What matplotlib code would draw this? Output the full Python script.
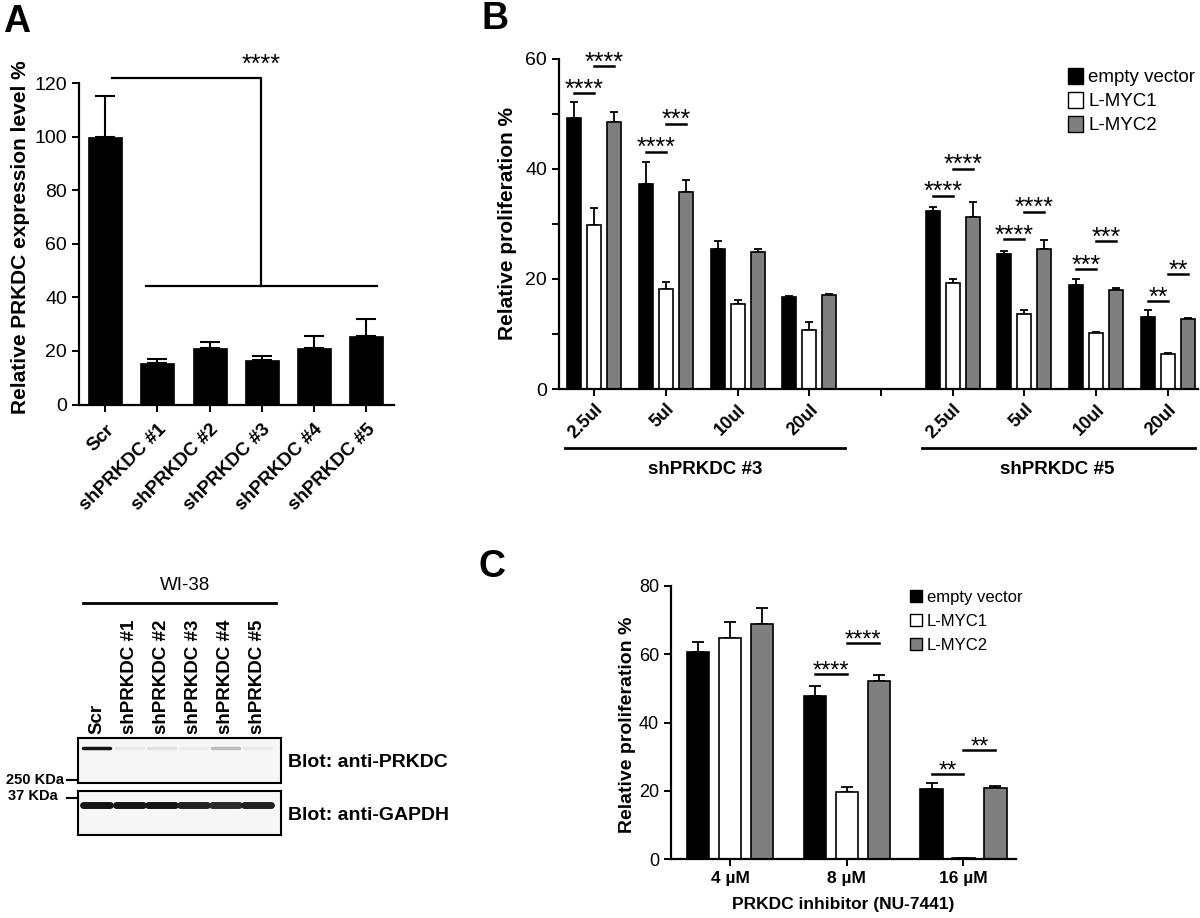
import matplotlib
matplotlib.use("Agg")
import matplotlib.pyplot as plt
from matplotlib.patches import Rectangle
from matplotlib.lines import Line2D

plt.rcParams['font.family'] = ['Liberation Sans', 'DejaVu Sans']

# ---- data ----
a_labels = ['Scr', 'shPRKDC #1', 'shPRKDC #2', 'shPRKDC #3', 'shPRKDC #4', 'shPRKDC #5']
a_values = [100, 15.5, 21, 16.5, 21, 25.5]
a_errors = [15, 1.5, 2.5, 1.5, 4.5, 6.5]

b_positions = [0, 1, 2, 3, 5, 6, 7, 8]
b_labels = ['2.5ul', '5ul', '10ul', '20ul', '2.5ul', '5ul', '10ul', '20ul']
b_empty = [49.3, 37.3, 25.4, 16.7, 32.4, 24.5, 18.9, 13.0]
b_empty_err = [2.9, 3.9, 1.5, 0.2, 0.7, 0.6, 1.0, 1.4]
b_lmyc1 = [29.8, 18.1, 15.4, 10.7, 19.2, 13.6, 10.1, 6.4]
b_lmyc1_err = [3.1, 1.3, 0.7, 1.5, 0.8, 0.8, 0.3, 0.1]
b_lmyc2 = [48.5, 35.7, 24.9, 17.1, 31.3, 25.5, 18.0, 12.8]
b_lmyc2_err = [1.9, 2.2, 0.5, 0.2, 2.6, 1.6, 0.3, 0.1]
# (position, bar a, bar b, line height, stars)
b_sig = [(0, 0, 1, 53.7, '****'), (0, 1, 2, 58.6, '****'),
         (1, 0, 1, 43.1, '****'), (1, 1, 2, 48.2, '***'),
         (5, 0, 1, 35.1, '****'), (5, 1, 2, 40.0, '****'),
         (6, 0, 1, 27.2, '****'), (6, 1, 2, 32.2, '****'),
         (7, 0, 1, 21.8, '***'), (7, 1, 2, 26.8, '***'),
         (8, 0, 1, 15.9, '**'), (8, 1, 2, 20.9, '**')]

c_labels = ['4 µM', '8 µM', '16 µM']
c_empty = [60.7, 47.7, 20.6]
c_empty_err = [2.7, 3.1, 1.8]
c_lmyc1 = [64.8, 19.6, 0.4]
c_lmyc1_err = [4.7, 1.6, 0.1]
c_lmyc2 = [68.7, 52.1, 20.8]
c_lmyc2_err = [4.9, 1.8, 0.6]
c_sig = [(1, 0, 1, 54.1, '****'), (1, 1, 2, 63.2, '****'),
         (2, 0, 1, 24.9, '**'), (2, 1, 2, 32.0, '**')]

series_names = ['empty vector', 'L-MYC1', 'L-MYC2']
series_colors = ['black', 'white', '#7f7f7f']

blot_prkdc = [1.0, 0.10, 0.13, 0.08, 0.28, 0.10]
blot_gapdh = [1.0, 1.0, 1.0, 0.95, 0.9, 0.95]

W, H = 1200, 918
fig = plt.figure(figsize=(12, 9.18), dpi=100)


def px_axes(x0, y0, x1, y1):
    return fig.add_axes([x0 / W, 1 - y1 / H, (x1 - x0) / W, (y1 - y0) / H])


def style(ax, tick_size):
    for s in ['top', 'right']:
        ax.spines[s].set_visible(False)
    for s in ['left', 'bottom']:
        ax.spines[s].set_linewidth(1.6)
    ax.tick_params(width=1.4, length=5, labelsize=tick_size, direction='out')


def fig_text(x, y, s, **kw):
    fig.text(x / W, 1 - y / H, s, **kw)


def fig_line(x0, x1, y, lw=2):
    fig.add_artist(Line2D([x0 / W, x1 / W], [1 - y / H, 1 - y / H], color='black', lw=lw))


def grouped(ax, pos, vals, errs, width, offset, capsize):
    for k in range(3):
        xs = [p + (k - 1) * offset for p in pos]
        ax.errorbar(xs, vals[k], yerr=[[0] * len(xs), errs[k]], fmt='none', ecolor='black',
                    elinewidth=1.3, capsize=capsize, capthick=1.3, zorder=1)
        ax.bar(xs, vals[k], width, color=series_colors[k], edgecolor='black', linewidth=1.2, zorder=2)


def stars(ax, sig, offset, size):
    for p, i, j, y, s in sig:
        x0 = p + (i - 1) * offset
        x1 = p + (j - 1) * offset
        ax.plot([x0, x1], [y, y], color='black', lw=1.8, clip_on=False)
        ax.annotate(s, xy=((x0 + x1) / 2, y), xytext=(0, -2.5), textcoords='offset points',
                    ha='center', va='baseline', fontsize=size, annotation_clip=False)


def legend(x, ys, box, size):
    for name, col, y in zip(series_names, series_colors, ys):
        fig.add_artist(Rectangle((x / W, 1 - (y + box / 2) / H), box / W, box / H,
                                 facecolor=col, edgecolor='black', lw=1.0))
        fig_text(x + box + 5, y, name, fontsize=size, va='center_baseline')


# ---- panel A ----
axA = px_axes(79, 83, 394, 404.5)
axA.errorbar(range(6), a_values, yerr=[[0] * 6, a_errors], fmt='none', ecolor='black',
             elinewidth=1.5, capsize=7, capthick=1.5, zorder=1)
axA.bar(range(6), a_values, 0.65, color='black', edgecolor='black', linewidth=0.5, zorder=2)
axA.set_xlim(-0.5, 5.53)
axA.set_ylim(0, 120)
axA.set_yticks(range(0, 121, 20))
style(axA, 14)
axA.tick_params(axis='x', pad=7)
axA.set_xticks(range(6))
axA.set_xticklabels(a_labels, rotation=45, ha='right', rotation_mode='anchor',
                    fontweight='bold', fontsize=13.5)
axA.set_ylabel('Relative PRKDC expression level %', fontsize=15, fontweight='bold')
axA.yaxis.set_label_coords(-0.155, 0.52)
axA.plot([0.13, 2.98, 2.98], [121.7, 121.7, 44.3], color='black', lw=1.6, clip_on=False)
axA.plot([0.78, 5.2], [44.3, 44.3], color='black', lw=1.6, clip_on=False)
axA.annotate('****', xy=(2.98, 121.7), xytext=(0, 5), textcoords='offset points',
             ha='center', va='baseline', fontsize=18, annotation_clip=False)

# ---- panel B ----
axB = px_axes(559, 58.7, 1198, 389)
grouped(axB, b_positions, [b_empty, b_lmyc1, b_lmyc2],
        [b_empty_err, b_lmyc1_err, b_lmyc2_err], 0.195, 0.279, 3)
axB.set_xlim(-0.49, 8.42)
axB.set_ylim(0, 60)
axB.set_yticks([0, 20, 40, 60])
axB.set_yticks([10, 30, 50], minor=True)
style(axB, 14)
axB.tick_params(which='minor', width=1.4, length=5)
axB.set_xticks([0, 1, 2, 3, 4, 5, 6, 7, 8])
axB.set_xticklabels(b_labels[:4] + [''] + b_labels[4:], rotation=45, ha='right',
                    rotation_mode='anchor', fontweight='bold', fontsize=13)
axB.set_ylabel('Relative proliferation %', fontsize=15, fontweight='bold')
axB.yaxis.set_label_coords(-0.066, 0.5)
stars(axB, b_sig, 0.279, 18)
fig_line(565, 845, 448)
fig_line(922, 1195, 448)
fig_text(705, 470, 'shPRKDC #3', fontsize=13.5, fontweight='bold', ha='center', va='center')
fig_text(1057, 470, 'shPRKDC #5', fontsize=13.5, fontweight='bold', ha='center', va='center')
legend(1068, [76, 100, 124], 15, 13.5)

# ---- panel C ----
axC = px_axes(671, 585.7, 1016, 859.3)
grouped(axC, range(3), [c_empty, c_lmyc1, c_lmyc2],
        [c_empty_err, c_lmyc1_err, c_lmyc2_err], 0.19, 0.274, 4.5)
axC.set_xlim(-0.506, 2.45)
axC.set_ylim(0, 80)
axC.set_yticks([0, 20, 40, 60, 80])
style(axC, 13)
axC.set_xticks(range(3))
axC.set_xticklabels(c_labels, fontweight='bold', fontsize=12.5)
axC.set_xlabel('PRKDC inhibitor (NU-7441)', fontsize=12.5, fontweight='bold', labelpad=8)
axC.set_ylabel('Relative proliferation %', fontsize=14, fontweight='bold')
axC.yaxis.set_label_coords(-0.1, 0.49)
stars(axC, c_sig, 0.274, 17)
legend(910, [596, 620, 644], 12, 12)

# ---- western blot ----
fig_text(185, 585, 'WI-38', fontsize=13.5, ha='center', va='center')
fig_line(83, 276, 603)
for y0, y1, bands, yb, lw, label in [(738, 783, blot_prkdc, 0.78, 2.5, 'Blot: anti-PRKDC'),
                                     (791, 835, blot_gapdh, 0.68, 5.0, 'Blot: anti-GAPDH')]:
    axw = px_axes(78, y0, 281, y1)
    axw.set_facecolor('#f6f6f6')
    axw.set_xlim(-0.59, 5.72)
    axw.set_ylim(0, 1)
    axw.set_xticks([])
    axw.set_yticks([])
    for sp in axw.spines.values():
        sp.set_linewidth(1.5)
    for i, v in enumerate(bands):
        axw.plot([i - 0.42, i + 0.42], [yb, yb], color=str(1 - 0.92 * v), lw=lw,
                 solid_capstyle='round')
    axw.text(1.035, 0.45, label, transform=axw.transAxes, fontsize=14, fontweight='bold',
             va='center', ha='left')
    if label.endswith('PRKDC'):
        for i, lab in enumerate(a_labels):
            axw.annotate(lab, xy=(i, 1), xycoords=('data', 'axes fraction'), xytext=(0, 3),
                         textcoords='offset points', rotation=90, ha='center', va='bottom',
                         fontsize=13.5, fontweight='bold')
fig_line(67, 78, 780, lw=1.5)
fig_line(67, 78, 798, lw=1.5)
fig_text(64, 780, '250 KDa', fontsize=10.5, fontweight='bold', ha='right', va='center')
fig_text(58, 796, '37 KDa', fontsize=10.5, fontweight='bold', ha='right', va='center')

# ---- panel letters ----
fig_text(3, 32, 'A', fontsize=27, fontweight='bold', va='baseline')
fig_text(481, 29, 'B', fontsize=27, fontweight='bold', va='baseline')
fig_text(478, 577, 'C', fontsize=27, fontweight='bold', va='baseline')

fig.savefig('out.png', dpi=100)
